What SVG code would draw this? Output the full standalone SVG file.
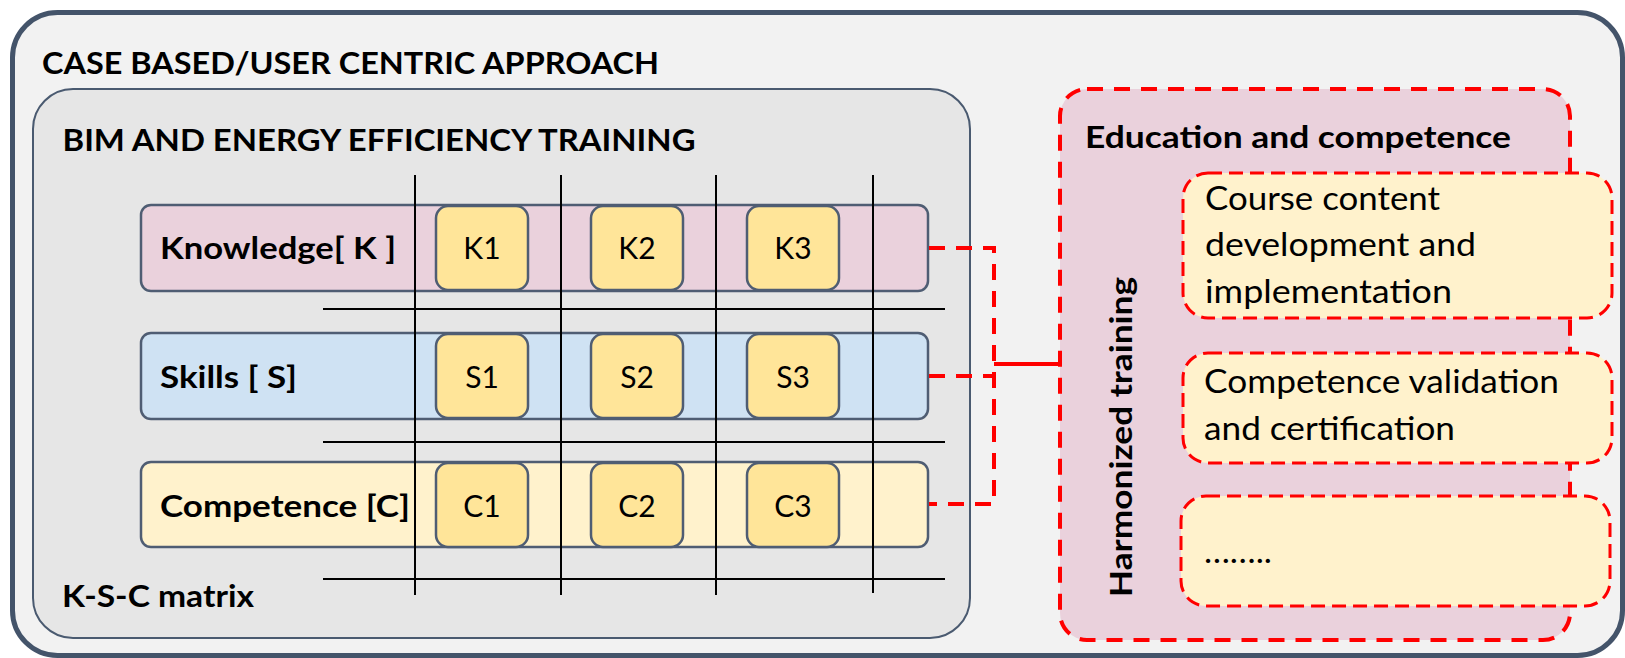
<svg xmlns="http://www.w3.org/2000/svg" width="1625" height="658" viewBox="0 0 1625 658">
<style>
text{font-family:Lato,"Open Sans","Liberation Sans",sans-serif;fill:#000}
.b{font-weight:bold}
.h1{font-size:31px}
.lbl{font-size:31px}
.cell{font-size:30px;text-anchor:middle}
.rt{font-size:33px}
.row{stroke:#4f5d73;stroke-width:2.5}
.c{fill:#ffe599;stroke:#4f5d73;stroke-width:2.5}
.grid{stroke:#000;stroke-width:2;fill:none}
.rd{fill:none;stroke:#ff0000;stroke-width:4;stroke-dasharray:16 11}
.yb{fill:#fff2cc;stroke:#ff0000;stroke-width:3;stroke-dasharray:14 7}
</style>
<rect width="1625" height="658" fill="#ffffff"/>
<g id="outer">
<rect x="12.5" y="12.5" width="1610" height="643" rx="45" fill="#f2f2f2" stroke="#44546a" stroke-width="5"/>
<text class="b h1" x="42" y="74" textLength="617" lengthAdjust="spacingAndGlyphs">CASE BASED/USER CENTRIC APPROACH</text>
</g>
<g id="training">
<rect x="33" y="89" width="937" height="549" rx="40" fill="#e6e6e6" stroke="#4a5a70" stroke-width="2"/>
<text class="b h1" x="62.5" y="151" textLength="633" lengthAdjust="spacingAndGlyphs">BIM AND ENERGY EFFICIENCY TRAINING</text>
<text class="b lbl" x="62" y="607" textLength="192" lengthAdjust="spacingAndGlyphs">K-S-C matrix</text>
</g>
<g id="row-knowledge">
<rect class="row" x="141" y="205" width="787" height="86" rx="10" fill="#ead1dc"/>
<text class="b lbl" x="160" y="259" textLength="236" lengthAdjust="spacingAndGlyphs">Knowledge[ K ]</text>
</g>
<g id="row-skills">
<rect class="row" x="141" y="333" width="787" height="86" rx="10" fill="#cfe2f3"/>
<text class="b lbl" x="160" y="388" textLength="137" lengthAdjust="spacingAndGlyphs">Skills [ S]</text>
</g>
<g id="row-competence">
<rect class="row" x="141" y="462" width="787" height="85" rx="10" fill="#fff2cc"/>
<text class="b lbl" x="160" y="517" textLength="250" lengthAdjust="spacingAndGlyphs">Competence [C]</text>
</g>
<g id="grid">
<path class="grid" d="M415 175V595M561 175V595M716 175V595M873 175V593"/>
<path class="grid" stroke-width="2.5" d="M323 309H945M323 442H945M323 579H945"/>
</g>
<g id="K1"><rect class="c" x="436" y="206" width="92" height="84" rx="12"/><text class="cell" x="482" y="259">K1</text></g>
<g id="K2"><rect class="c" x="591" y="206" width="92" height="84" rx="12"/><text class="cell" x="637" y="259">K2</text></g>
<g id="K3"><rect class="c" x="747" y="206" width="92" height="84" rx="12"/><text class="cell" x="793" y="259">K3</text></g>
<g id="S1"><rect class="c" x="436" y="334" width="92" height="84" rx="12"/><text class="cell" x="482" y="388">S1</text></g>
<g id="S2"><rect class="c" x="591" y="334" width="92" height="84" rx="12"/><text class="cell" x="637" y="388">S2</text></g>
<g id="S3"><rect class="c" x="747" y="334" width="92" height="84" rx="12"/><text class="cell" x="793" y="388">S3</text></g>
<g id="C1"><rect class="c" x="436" y="463" width="92" height="84" rx="12"/><text class="cell" x="482" y="517">C1</text></g>
<g id="C2"><rect class="c" x="591" y="463" width="92" height="84" rx="12"/><text class="cell" x="637" y="517">C2</text></g>
<g id="C3"><rect class="c" x="747" y="463" width="92" height="84" rx="12"/><text class="cell" x="793" y="517">C3</text></g>
<g id="education">
<rect x="1060" y="89" width="510" height="551" rx="27" fill="#ead1dc" stroke="none"/>
<rect x="1060" y="89" width="510" height="551" rx="27" class="rd"/>
<text class="b h1" x="1085" y="148" textLength="426" lengthAdjust="spacingAndGlyphs">Education and competence</text>
<text class="b h1" transform="translate(1132 597) rotate(-90)" textLength="320" lengthAdjust="spacingAndGlyphs">Harmonized training</text>
</g>
<g id="course">
<rect class="yb" x="1183" y="173" width="429" height="145" rx="25"/>
<text class="rt" x="1205" y="210" textLength="235" lengthAdjust="spacingAndGlyphs">Course content</text>
<text class="rt" x="1205" y="256" textLength="271" lengthAdjust="spacingAndGlyphs">development and</text>
<text class="rt" x="1205" y="303" textLength="247" lengthAdjust="spacingAndGlyphs">implementation</text>
</g>
<g id="validation">
<rect class="yb" x="1183" y="353" width="429" height="110" rx="25"/>
<text class="rt" x="1204" y="393" textLength="355" lengthAdjust="spacingAndGlyphs">Competence validation</text>
<text class="rt" x="1204" y="440" textLength="251" lengthAdjust="spacingAndGlyphs">and certification</text>
</g>
<g id="more">
<rect class="yb" x="1181" y="496" width="429" height="110" rx="25"/>
<text class="rt" x="1204" y="563" textLength="68" lengthAdjust="spacingAndGlyphs">……..</text>
</g>
<g id="connectors">
<path class="rd" d="M929 248H994V504H929"/>
<path class="rd" d="M929 376H994"/>
<path d="M994 364H1060" fill="none" stroke="#ff0000" stroke-width="4"/>
</g>
</svg>
